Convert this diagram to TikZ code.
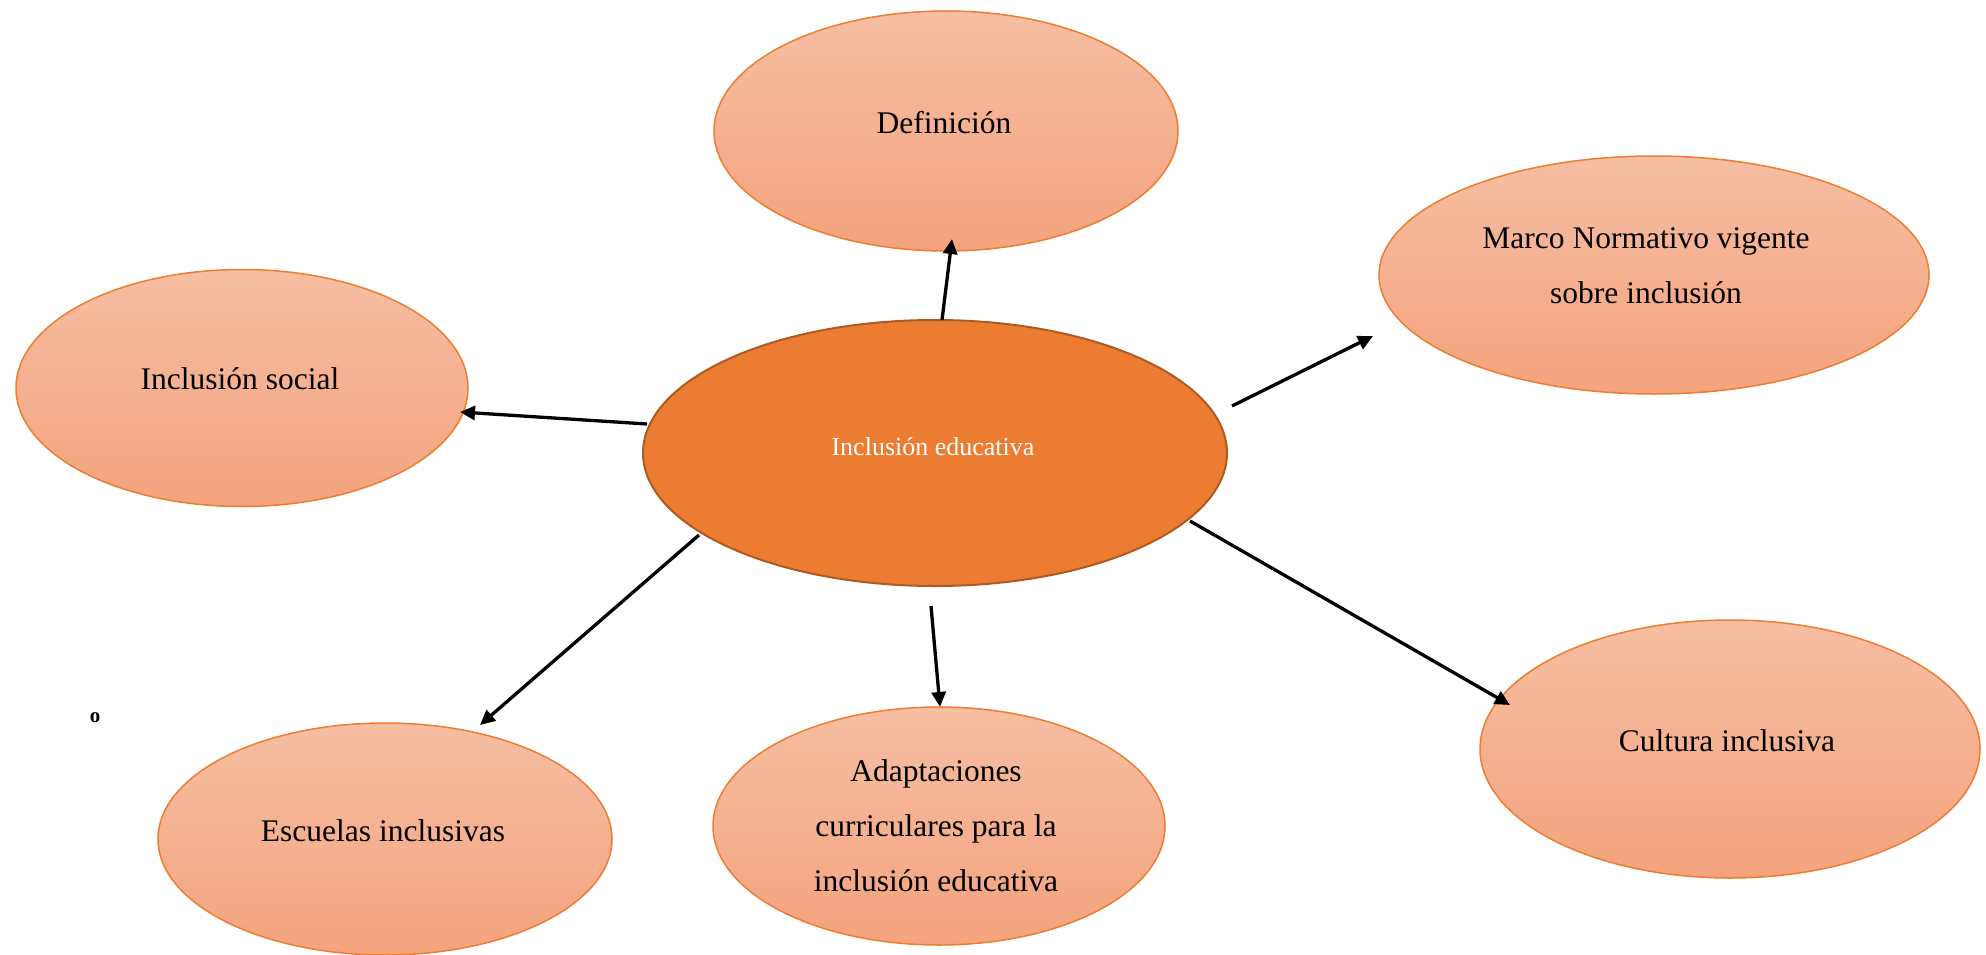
\documentclass[tikz,border=0pt]{standalone}
\usepackage{fontspec}
\setmainfont{Liberation Serif}
\usetikzlibrary{arrows.meta,calc,shapes.geometric}
\definecolor{orborder}{HTML}{ED7D31}
\definecolor{ortop}{HTML}{F6BEA3}
\definecolor{orbot}{HTML}{F4A37D}
\definecolor{cenfill}{HTML}{EB7C31}
\definecolor{cenborder}{HTML}{AE5A21}
\tikzset{
  outerell/.style={ellipse, draw=orborder, line width=1.5pt, top color=ortop, bottom color=orbot, inner sep=0pt},
  centerell/.style={ellipse, draw=cenborder, line width=2pt, fill=cenfill, inner sep=0pt},
  lbl/.style={font=\fontsize{31.5}{55}\selectfont, align=center, text=black},
  clbl/.style={font=\fontsize{26}{30}\selectfont, text=white},
  conn/.style={line width=3.3pt, black, -{Triangle[length=15pt,width=14pt]}}
}
\begin{document}
\begin{tikzpicture}[x=1pt,y=-1pt]
\useasboundingbox (0,0) rectangle (1986,955);
% ellipses
\node[outerell, minimum width=464pt, minimum height=240pt] (def) at (946,131) {};
\node[outerell, minimum width=550pt, minimum height=238pt] (marco) at (1654,275) {};
\node[outerell, minimum width=452pt, minimum height=237pt] (social) at (242,388) {};
\node[outerell, minimum width=454pt, minimum height=232pt] (esc) at (385,839) {};
\node[outerell, minimum width=452pt, minimum height=238pt] (adapt) at (939,826) {};
\node[outerell, minimum width=500pt, minimum height=258pt] (cult) at (1730,749) {};
\node[centerell, minimum width=584pt, minimum height=266pt] (cen) at (935,453) {};
% labels
\node[lbl] (def-t) at ($(def.center)+(-2,-8)$) {Definición};
\node[lbl] (marco-t) at ($(marco.center)+(-8,-9)$) {Marco Normativo vigente\\sobre inclusión};
\node[lbl] (social-t) at ($(social.center)+(-2,-9)$) {Inclusión social};
\node[lbl] (esc-t) at ($(esc.center)+(-2,-8)$) {Escuelas inclusivas};
\node[lbl] (adapt-t) at ($(adapt.center)+(-3,0)$) {Adaptaciones\\curriculares para la\\inclusión educativa};
\node[lbl] (cult-t) at ($(cult.center)+(-3,-8)$) {Cultura inclusiva};
\node[clbl] (cen-t) at ($(cen.center)+(-2,-6)$) {Inclusión educativa};
\node[font=\fontsize{21}{24}\selectfont\bfseries] (mark) at (95,718) {o};
% connectors
\draw[conn] ($(cen.center)+(7,-133)$) -- ($(def.center)+(6,108)$);
\draw[conn] ($(cen.center)+(297,-47)$) -- ($(marco.center)+(-281,61)$);
\draw[conn] ($(cen.center)+(-288,-29)$) -- ($(social.center)+(218,24)$);
\draw[conn] ($(cen.center)+(-236,82)$) -- ($(esc.center)+(95,-114)$);
\draw[conn] ($(cen.center)+(-4,153)$) -- ($(adapt.center)+(1,-119)$);
\draw[conn] ($(cen.center)+(255,68)$) -- ($(cult.center)+(-220,-44)$);
\end{tikzpicture}
\end{document}
